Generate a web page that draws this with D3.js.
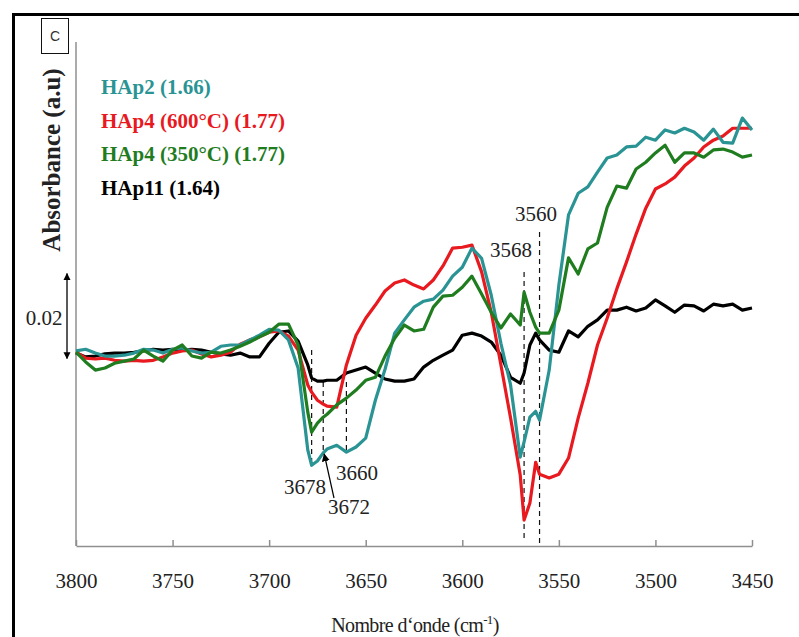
<!DOCTYPE html>
<html>
<head>
<meta charset="utf-8">
<script src="https://cdn.jsdelivr.net/npm/d3@7"></script>
<style>
  html, body { margin: 0; padding: 0; background: #fff; }
  svg { display: block; }
</style>
</head>
<body>
<svg id="chart" width="799" height="637"></svg>
<script>
// ---- Data (wavenumber in cm-1, absorbance in a.u., baseline-referenced) ----
const wavenumbers = [3800,3795,3790,3785,3780,3775,3770,3765,3760,3755,3750,3745,3740,3735,3730,3725,3720,3715,3710,3705,3700,3695,3690,3685,3680,3678,3675,3672,3670,3665,3660,3655,3650,3645,3640,3635,3630,3625,3620,3615,3610,3605,3600,3595,3590,3585,3580,3575,3570,3568,3565,3562,3560,3555,3550,3545,3540,3535,3530,3525,3520,3515,3510,3505,3500,3495,3490,3485,3480,3475,3470,3465,3460,3455,3450];

const hap2 = [-0.0002,0.0002,-0.0007,-0.0014,-0.0014,-0.0012,-0.0007,0.0002,0,-0.0007,0.0002,0.0005,-0.0002,-0.0007,-0.0005,0.0009,0.0012,0.0012,0.0024,0.0035,0.0049,0.0047,0.0024,-0.0042,-0.0235,-0.0271,-0.0261,-0.0242,-0.0233,-0.0224,-0.0240,-0.0228,-0.0207,-0.0118,-0.0045,0.0040,0.0071,0.0101,0.0115,0.0120,0.0141,0.0174,0.0195,0.0240,0.0216,0.0129,0.0016,-0.0082,-0.0252,-0.0216,-0.0158,-0.0144,-0.0165,-0.0047,0.0153,0.0318,0.0369,0.0384,0.0419,0.0452,0.0459,0.0478,0.0480,0.0501,0.0494,0.0518,0.0511,0.0522,0.0513,0.0494,0.0520,0.0489,0.0487,0.0546,0.0518];

const hap4_600 = [-0.0005,-0.0019,-0.0021,-0.0019,-0.0024,-0.0026,-0.0024,-0.0026,-0.0024,-0.0016,-0.0007,-0.0002,0,-0.0009,-0.0016,-0.0012,-0.0005,0.0014,0.0024,0.0031,0.0042,0.0045,0.0033,0,-0.0082,-0.0099,-0.0118,-0.0127,-0.0132,-0.0134,-0.0035,0.0035,0.0075,0.0106,0.0139,0.0158,0.0165,0.0153,0.0144,0.0165,0.0198,0.0240,0.0242,0.0247,0.0184,0.0089,-0.0035,-0.0160,-0.0294,-0.0400,-0.0360,-0.0264,-0.0292,-0.0301,-0.0292,-0.0254,-0.0160,-0.0078,0.0012,0.0075,0.0144,0.0207,0.0273,0.0334,0.0379,0.0391,0.0407,0.0433,0.0452,0.0478,0.0494,0.0504,0.0522,0.0522,0.0522];

const hap4_350 = [-0.0005,-0.0028,-0.0047,-0.0042,-0.0031,-0.0026,-0.0021,0,-0.0014,-0.0026,0,0.0012,-0.0014,-0.0019,-0.0005,-0.0007,0,0.0009,0.0019,0.0031,0.0042,0.0061,0.0061,0.0012,-0.0146,-0.0193,-0.0172,-0.0158,-0.0151,-0.0129,-0.0113,-0.0094,-0.0071,-0.0064,-0.0014,0.0028,0.0059,0.0045,0.0049,0.0101,0.0127,0.0129,0.0148,0.0174,0.0132,0.0089,0.0052,0.0085,0.0059,0.0136,0.0089,0.0054,0.0040,0.0040,0.0094,0.0217,0.0179,0.0238,0.0252,0.0336,0.0386,0.0381,0.0426,0.0442,0.0464,0.0482,0.0442,0.0464,0.0464,0.0454,0.0471,0.0473,0.0466,0.0454,0.0459];

const hap11 = [-0.0007,-0.0016,-0.0014,-0.0009,-0.0007,-0.0007,-0.0005,-0.0002,0.0002,0,0.0002,0,0.0002,0,-0.0005,-0.0009,-0.0012,-0.0007,-0.0016,-0.0016,0.0016,0.0042,0.0045,0.0021,-0.0035,-0.0066,-0.0073,-0.0073,-0.0071,-0.0071,-0.0054,-0.0047,-0.0040,-0.0054,-0.0068,-0.0073,-0.0073,-0.0068,-0.0040,-0.0024,-0.0012,0,0.0035,0.0040,0.0033,0.0019,-0.0012,-0.0064,-0.0078,-0.0054,0.0012,0.0040,0.0024,0,-0.0005,0.0045,0.0031,0.0056,0.0071,0.0094,0.0094,0.0101,0.0092,0.0099,0.0118,0.0104,0.0089,0.0106,0.0104,0.0092,0.0108,0.0104,0.0108,0.0094,0.0099];

const seriesNames = ["HAp11 (1.64)", "HAp4 (600°C) (1.77)", "HAp2 (1.66)", "HAp4 (350°C) (1.77)"];
const xTickValues = [3800, 3750, 3700, 3650, 3600, 3550, 3500, 3450];
const peakLabels = [3678, 3672, 3660, 3568, 3560];
const scaleBarValue = 0.02;

// ---- Layout ----
const svg = d3.select("#chart");
const serif = "'Liberation Serif','Times New Roman',serif";
const x = d3.scaleLinear().domain([3800, 3450]).range([76, 752]);
const y = d3.scaleLinear().domain([-0.0461, 0.0725]).range([546, 42]);

// outer frame
svg.append("rect").attr("x", 13.5).attr("y", 14.5).attr("width", 800).attr("height", 700)
  .attr("fill", "none").attr("stroke", "#000").attr("stroke-width", 3);

// panel tag
svg.append("rect").attr("x", 41.5).attr("y", 18.5).attr("width", 27).attr("height", 35)
  .attr("fill", "#fff").attr("stroke", "#111").attr("stroke-width", 1);
svg.append("text").attr("x", 55).attr("y", 41).attr("text-anchor", "middle")
  .attr("font-family", "'Liberation Sans',Arial,sans-serif").attr("font-size", 14)
  .attr("fill", "#333").text("C");

// y axis line
svg.append("line").attr("x1", 76).attr("x2", 76).attr("y1", y.range()[1]).attr("y2", y.range()[0])
  .attr("stroke", "#8f8f8f").attr("stroke-width", 1.5);

// x axis
const xAxis = d3.axisBottom(x).tickValues(xTickValues).tickFormat(d3.format("d"))
  .tickSizeInner(-6).tickSizeOuter(0).tickPadding(27);
const gx = svg.append("g").attr("transform", "translate(0,546)").call(xAxis);
gx.select(".domain").attr("stroke", "#8f8f8f").attr("stroke-width", 1.5);
gx.selectAll(".tick line").attr("stroke", "#8f8f8f").attr("stroke-width", 1.5);
gx.selectAll(".tick text").attr("font-family", serif).attr("font-size", 21).attr("fill", "#222");

// axis titles
const xt = svg.append("text").attr("x", 415).attr("y", 632).attr("text-anchor", "middle")
  .attr("font-family", serif).attr("font-size", 20).attr("letter-spacing", -0.6).attr("fill", "#222");
xt.append("tspan").text("Nombre d‘onde (cm");
xt.append("tspan").attr("font-size", 13).attr("dy", -8).text("-1");
xt.append("tspan").attr("dy", 8).text(")");

svg.append("text").attr("transform", "translate(60,160) rotate(-90)").attr("text-anchor", "middle")
  .attr("font-family", serif).attr("font-size", 25).attr("font-weight", "bold").attr("fill", "#222")
  .text("Absorbance (a.u)");

// scale bar
const defs = svg.append("defs");
defs.append("marker").attr("id", "ah").attr("viewBox", "0 0 10 10").attr("refX", 9).attr("refY", 5)
  .attr("markerWidth", 7).attr("markerHeight", 9).attr("markerUnits", "userSpaceOnUse").attr("orient", "auto-start-reverse")
  .append("path").attr("d", "M0,0 L10,5 L0,10 z").attr("fill", "#000");
svg.append("line").attr("x1", 67).attr("x2", 67)
  .attr("y1", y(-0.002)).attr("y2", y(-0.002 + scaleBarValue))
  .attr("stroke", "#000").attr("stroke-width", 1.3)
  .attr("marker-start", "url(#ah)").attr("marker-end", "url(#ah)");
svg.append("text").attr("x", 44).attr("y", 325).attr("text-anchor", "middle")
  .attr("font-family", serif).attr("font-size", 21).attr("fill", "#222").text(String(scaleBarValue));

// dashed peak markers
const dashExt = { 3678: [350, 467], 3672: [382, 452], 3660: [382, 453], 3568: [272, 538], 3560: [232, 547] };
peakLabels.forEach(p => {
  svg.append("line").attr("x1", x(p)).attr("x2", x(p)).attr("y1", dashExt[p][0]).attr("y2", dashExt[p][1])
    .attr("stroke", "#111").attr("stroke-width", 1.2).attr("stroke-dasharray", "5,4");
});

// series
const colors = ["#000000", "#e8191f", "#2a9494", "#1f7d1f"];
const allSeries = [hap11, hap4_600, hap2, hap4_350];
const line = d3.line().x((d, i) => x(wavenumbers[i])).y(d => y(d)).curve(d3.curveLinear);
allSeries.forEach((s, k) => {
  svg.append("path").datum(s).attr("d", line).attr("fill", "none")
    .attr("stroke", colors[k]).attr("stroke-width", 3.2).attr("stroke-linejoin", "round");
});

// peak labels
const labelPos = { 3678: [305, 494], 3660: [357, 480], 3672: [349, 514], 3568: [511, 257], 3560: [536, 221] };
peakLabels.forEach(p => {
  svg.append("text").attr("x", labelPos[p][0]).attr("y", labelPos[p][1]).attr("text-anchor", "middle")
    .attr("font-family", serif).attr("font-size", 21).attr("fill", "#222").text(String(p));
});
// arrow to 3672
defs.append("marker").attr("id", "ah2").attr("viewBox", "0 0 10 10").attr("refX", 9).attr("refY", 5)
  .attr("markerWidth", 8).attr("markerHeight", 8).attr("markerUnits", "userSpaceOnUse").attr("orient", "auto")
  .append("path").attr("d", "M0,0 L10,5 L0,10 z").attr("fill", "#000");
svg.append("line").attr("x1", 334).attr("y1", 498).attr("x2", x(3672) + 1).attr("y2", 454)
  .attr("stroke", "#000").attr("stroke-width", 1.2).attr("marker-end", "url(#ah2)");

// legend
const legendColors = ["#2a9494", "#e8191f", "#1f7d1f", "#000000"];
const legendTexts = [seriesNames[2], seriesNames[1], seriesNames[3], seriesNames[0]];
legendTexts.forEach((t, i) => {
  svg.append("text").attr("x", 101).attr("y", 94 + i * 33.7)
    .attr("font-family", serif).attr("font-size", 21).attr("font-weight", "bold")
    .attr("fill", legendColors[i]).text(t);
});
</script>
</body>
</html>
